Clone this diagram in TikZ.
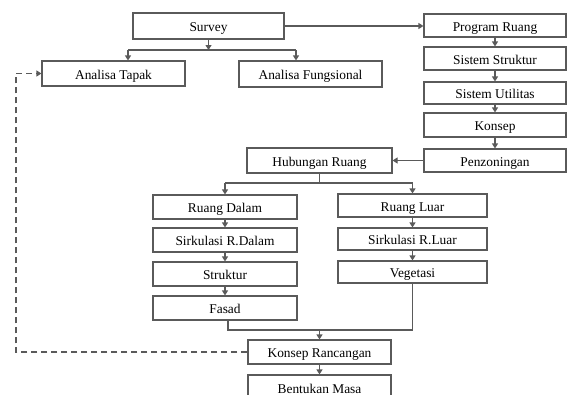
\documentclass[tikz,border=0pt]{standalone}
\usepackage{fontspec}
\setmainfont{Liberation Serif}
\usetikzlibrary{arrows.meta}
\definecolor{linegray}{HTML}{5A5A5A}
\begin{document}
\begin{tikzpicture}[x=1pt,y=-1pt,
  box/.style={draw=linegray, line width=1.1pt, inner sep=0pt, text height=12pt, text depth=1pt, font=\fontsize{13.4}{15}\selectfont, text=black},
  ln/.style={draw=linegray, line width=1.1pt},
  arr/.style={ln, -{Triangle[length=5pt,width=6pt]}},
  dsh/.style={ln, dash pattern=on 6pt off 4pt, -{Triangle[length=5pt,width=6pt]}}]
\useasboundingbox (0,0) rectangle (567,394);

% top
\node[box, minimum width=151pt, minimum height=26pt] (survey) at (208.5,26) {Survey};
\node[box, minimum width=143pt, minimum height=25pt] (tapak) at (113.5,73.5) {Analisa Tapak};
\node[box, minimum width=143pt, minimum height=26pt] (fung) at (310.5,74) {Analisa Fungsional};

% right column
\node[box, minimum width=142pt, minimum height=23pt] (program) at (495,25.5) {Program Ruang};
\node[box, minimum width=142pt, minimum height=23pt] (sstruk) at (495,58.5) {Sistem Struktur};
\node[box, minimum width=142pt, minimum height=22pt] (sutil) at (495,93) {Sistem Utilitas};
\node[box, minimum width=142pt, minimum height=24pt] (konsep) at (495,125) {Konsep};
\node[box, minimum width=142pt, minimum height=23pt] (penzon) at (495,160.5) {Penzoningan};

% middle
\node[box, minimum width=145pt, minimum height=25pt] (hub) at (319.5,160.5) {Hubungan Ruang};

% left chain
\node[box, minimum width=144pt, minimum height=24pt] (rdalam) at (225,207) {Ruang Dalam};
\node[box, minimum width=144pt, minimum height=24pt] (sirkd) at (225,240) {Sirkulasi R.Dalam};
\node[box, minimum width=144pt, minimum height=24pt] (strukt) at (225,274) {Struktur};
\node[box, minimum width=144pt, minimum height=24pt] (fasad) at (225,308) {Fasad};

% right chain
\node[box, minimum width=149pt, minimum height=23pt] (rluar) at (412.5,205.5) {Ruang Luar};
\node[box, minimum width=149pt, minimum height=22pt] (sirkl) at (412.5,239) {Sirkulasi R.Luar};
\node[box, minimum width=149pt, minimum height=22pt] (veget) at (412.5,272) {Vegetasi};

% bottom
\node[box, minimum width=143pt, minimum height=24pt] (kr) at (319.5,352) {Konsep Rancangan};
\node[box, minimum width=143pt, minimum height=25pt] (bm) at (319.5,387.5) {Bentukan Masa};

% coordinates
\coordinate (jl) at (128,50);
\coordinate (jr) at (296,50);
\coordinate (hl) at (225,183);
\coordinate (hr) at (412.5,183);
\coordinate (fb) at (228,330);
\coordinate (dl) at (16,0);

% connectors top
\draw[arr] (survey.south) -- (survey.south |- jl);
\draw[ln] (jl) -- (jr);
\draw[arr] (jl) -- (jl |- tapak.north);
\draw[arr] (jr) -- (jr |- fung.north);
\draw[arr] (survey.east) -- (survey.east -| program.west);

% right column
\draw[arr] (program) -- (sstruk);
\draw[arr] (sstruk) -- (sutil);
\draw[arr] (sutil) -- (konsep);
\draw[arr] (konsep) -- (penzon);
\draw[arr] (penzon) -- (hub);

% branch from hubungan
\draw[ln] (hub.south) -- (hub.south |- hl);
\draw[ln] (hl) -- (hr);
\draw[arr] (hl) -- (rdalam.north);
\draw[arr] (hr) -- (rluar.north);

\draw[arr] (rdalam) -- (sirkd);
\draw[arr] (sirkd) -- (strukt);
\draw[arr] (strukt) -- (fasad);

\draw[arr] (rluar) -- (sirkl);
\draw[arr] (sirkl) -- (veget);

% merge
\draw[ln] (fasad.south -| fb) -- (fb) -| (veget.south);
\draw[arr] (fb -| kr.north) -- (kr.north);
\draw[arr] (kr) -- (bm);

% dashed feedback
\draw[dsh] (kr.west) -- (kr.west -| dl) |- (tapak.west);
\end{tikzpicture}
\end{document}
